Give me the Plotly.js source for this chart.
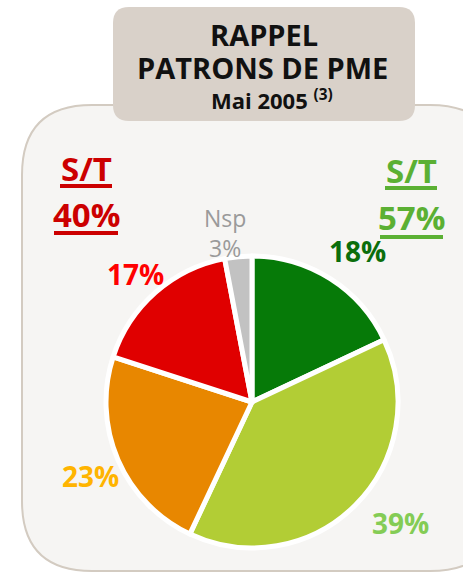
<!DOCTYPE html>
<html>
<head>
<meta charset="utf-8">
<script src="https://cdn.plot.ly/plotly-3.0.1.min.js"></script>
<style>html,body{margin:0;padding:0;background:#fff;}#chart{width:463px;height:572px;}</style>
</head>
<body>
<div id="chart"></div>
<script>
// ---- data ----
const categories = ["Très favorable", "Assez favorable", "Assez défavorable", "Très défavorable", "Nsp"];
const values = [18, 39, 23, 17, 3];
const sliceColors = ["#067a08", "#b2cd35", "#e88700", "#e00000", "#c2c2c2"];
const sliceLabels = ["18%", "39%", "23%", "17%", "Nsp<br>3%"];
const totalLabels = ["S/T", "40%", "S/T", "57%"];
const titleLines = ["RAPPEL", "PATRONS DE PME", "Mai 2005 <sup>(3)</sup>"];

// ---- layout helpers (pixels -> paper) ----
const W = 463, H = 572;
const px = x => x / W;
const py = y => 1 - y / H;
function roundRect(x0, y0, x1, y1, r) {
  const P = (x, y) => px(x) + "," + py(y);
  return "M" + P(x0 + r, y0) + " L" + P(x1 - r, y0) +
    " Q" + P(x1, y0) + " " + P(x1, y0 + r) +
    " L" + P(x1, y1 - r) + " Q" + P(x1, y1) + " " + P(x1 - r, y1) +
    " L" + P(x0 + r, y1) + " Q" + P(x0, y1) + " " + P(x0, y1 - r) +
    " L" + P(x0, y0 + r) + " Q" + P(x0, y0) + " " + P(x0 + r, y0) + " Z";
}
const FONT = "Open Sans, DejaVu Sans, sans-serif";

const trace = {
  type: "pie",
  labels: categories,
  values: values,
  sort: false,
  direction: "clockwise",
  rotation: 0,
  textinfo: "none",
  hoverinfo: "none",
  showlegend: false,
  marker: { colors: sliceColors, line: { color: "#ffffff", width: 5 } },
  domain: { x: [px(106), px(398)], y: [py(548), py(256)] }
};

function ann(text, x, y, size, color, bold) {
  return {
    xref: "paper", yref: "paper", x: px(x), y: py(y),
    xanchor: "center", yanchor: "middle", showarrow: false,
    text: bold ? "<b>" + text + "</b>" : text,
    font: { family: FONT, size: size, color: color }
  };
}

const annotations = [
  ann(titleLines[0], 264, 34, 29, "#111111", true),
  ann(titleLines[1], 262, 68, 29, "#111111", true),
  ann(titleLines[2], 272, 99, 22, "#111111", true),
  ann(totalLabels[0], 86, 168, 33, "#cc0000", true),
  ann(totalLabels[1], 86, 215, 33, "#cc0000", true),
  ann(totalLabels[2], 411, 170, 33, "#5bb033", true),
  ann(totalLabels[3], 411, 218, 33, "#5bb033", true),
  ann(sliceLabels[0], 357, 251, 28, "#0b6e0b", true),
  ann(sliceLabels[1], 400, 523, 28, "#84cc55", true),
  ann(sliceLabels[2], 90, 476, 28, "#ffb400", true),
  ann(sliceLabels[3], 135, 274, 28, "#ff0000", true),
  ann(sliceLabels[4], 225, 233, 23, "#9a9a9a", false)
];

function uline(x0, x1, y, color) {
  return { type: "line", xref: "paper", yref: "paper", x0: px(x0), x1: px(x1), y0: py(y), y1: py(y),
    line: { color: color, width: 4 }, layer: "above" };
}

const shapes = [
  { type: "path", xref: "paper", yref: "paper", path: roundRect(22, 105, 500, 571, 70),
    fillcolor: "#f6f5f3", line: { color: "#d3cbc1", width: 2 }, layer: "below" },
  { type: "path", xref: "paper", yref: "paper", path: roundRect(113, 7, 415, 121, 16),
    fillcolor: "#d9d1c9", line: { width: 0 }, layer: "below" },
  uline(60, 112, 186, "#cc0000"),
  uline(54, 118, 233, "#cc0000"),
  uline(385, 437, 188, "#5bb033"),
  uline(380, 443, 237, "#5bb033")
];

const layout = {
  width: W, height: H,
  margin: { l: 0, r: 0, t: 0, b: 0 },
  paper_bgcolor: "#ffffff",
  plot_bgcolor: "rgba(0,0,0,0)",
  showlegend: false,
  shapes: shapes,
  annotations: annotations
};

Plotly.newPlot("chart", [trace], layout, { displayModeBar: false, staticPlot: true });
</script>
</body>
</html>
